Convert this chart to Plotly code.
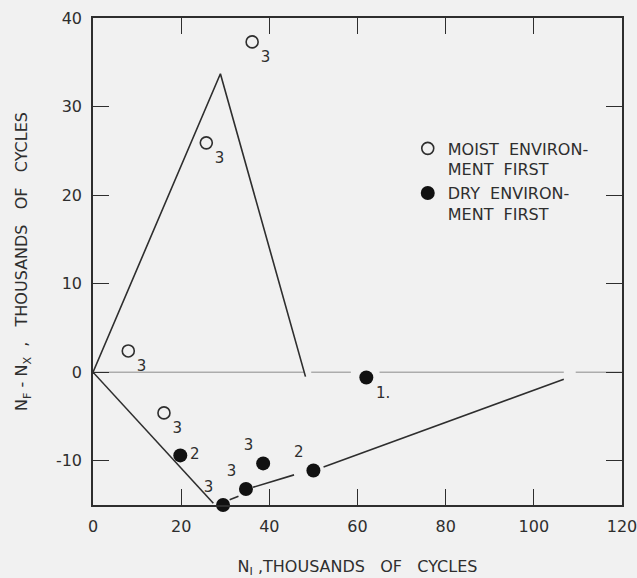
import plotly.graph_objects as go

# ---- data ----
moist_x = [36.1, 25.7, 8.0, 16.1]
moist_y = [37.3, 25.9, 2.4, -4.6]
moist_n = ["3", "3", "3", "3"]

dry_x = [19.8, 29.5, 34.7, 38.6, 50.0, 62.0]
dry_y = [-9.4, -15.0, -13.2, -10.3, -11.1, -0.6]
dry_n = ["2", "3", "3", "3", "2", "1."]
dry_pos = ["middle right", "top left", "top left", "top left", "top left", "bottom right"]

upper_x = [0, 28.9, 48.2]
upper_y = [0, 33.7, -0.5]

lower_a_x = [0, 27.3]
lower_a_y = [0, -14.8]
lower_b_x = [31.0, 33.0]
lower_b_y = [-14.4, -14.0]
lower_c_x = [36.3, 45.6]
lower_c_y = [-13.0, -11.6]
lower_d_x = [52.3, 106.8]
lower_d_y = [-10.7, -0.8]

zero_segments = [(0, 48.0), (49.5, 58.5), (65.0, 106.8), (109.5, 120)]

x_ticks = [0, 20, 40, 60, 80, 100, 120]
y_ticks = [-10, 0, 10, 20, 30, 40]

INK = "#2e2e2e"
BG = "#f1f1f1"
FONT = "DejaVu Sans"

fig = go.Figure()

for a, b in zero_segments:
    fig.add_trace(go.Scatter(x=[a, b], y=[0, 0], mode="lines",
                             line=dict(color="#8a8a8a", width=1),
                             showlegend=False, hoverinfo="skip"))

for xs, ys in [(upper_x, upper_y), (lower_a_x, lower_a_y), (lower_b_x, lower_b_y),
               (lower_c_x, lower_c_y), (lower_d_x, lower_d_y)]:
    fig.add_trace(go.Scatter(x=xs, y=ys, mode="lines",
                             line=dict(color=INK, width=1.6),
                             showlegend=False, hoverinfo="skip"))

fig.add_trace(go.Scatter(
    x=moist_x, y=moist_y, mode="markers+text", text=moist_n,
    textposition="bottom right",
    textfont=dict(family=FONT, size=15, color=INK),
    marker=dict(symbol="circle-open", size=12, color=INK, line=dict(width=1.6, color=INK)),
    name="MOIST  ENVIRON-<br>MENT  FIRST", cliponaxis=False))

fig.add_trace(go.Scatter(
    x=dry_x, y=dry_y, mode="markers+text", text=dry_n,
    textposition=dry_pos,
    textfont=dict(family=FONT, size=15, color=INK),
    marker=dict(symbol="circle", size=14, color="#111111"),
    name="DRY  ENVIRON-<br>MENT  FIRST", cliponaxis=False))

fig.update_layout(
    width=637, height=578,
    margin=dict(l=93, r=15, t=18, b=73),
    paper_bgcolor=BG, plot_bgcolor=BG,
    font=dict(family=FONT, size=15, color=INK),
    showlegend=True,
    legend=dict(x=0.595, y=0.767, xanchor="left", yanchor="top",
                bgcolor="rgba(0,0,0,0)", valign="top",
                font=dict(family=FONT, size=16, color=INK),
                tracegroupgap=2),
    xaxis=dict(range=[0, 120], tickvals=x_ticks, ticktext=[str(v) for v in x_ticks],
               automargin=False, ticklabeloverflow="allow",
               showgrid=False, zeroline=False, showline=True, linecolor=INK, linewidth=1.5,
               mirror="allticks", ticks="inside", ticklen=16, tickcolor=INK, tickwidth=1.2,
               tickfont=dict(family=FONT, size=16, color=INK), ticklabelstandoff=6,
               title=dict(text="N<sub>I</sub> ,THOUSANDS   OF   CYCLES", standoff=26,
                          font=dict(family=FONT, size=16, color=INK))),
    yaxis=dict(range=[-15, 40], tickvals=y_ticks, ticktext=[str(v) for v in y_ticks],
               automargin=False,
               showgrid=False, zeroline=False, showline=True, linecolor=INK, linewidth=1.5,
               mirror="allticks", ticks="inside", ticklen=16, tickcolor=INK, tickwidth=1.2,
               tickfont=dict(family=FONT, size=16, color=INK), ticklabelstandoff=6,
               title=dict(text="N<sub>F</sub> - N<sub>X</sub>  ,   THOUSANDS   OF   CYCLES", standoff=24,
                          font=dict(family=FONT, size=16, color=INK))),
)

fig.write_html("out.html", config={"displayModeBar": False},
               post_script="document.body.style.margin='0';document.body.style.background='%s';" % BG)
